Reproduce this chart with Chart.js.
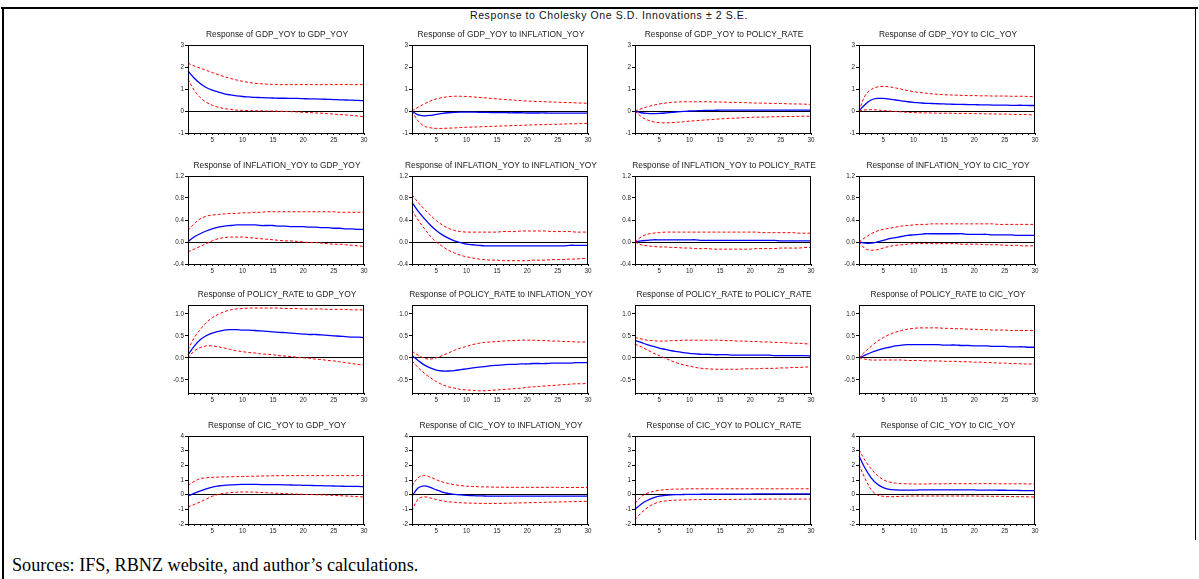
<!DOCTYPE html>
<html>
<head>
<meta charset="utf-8">
<script src="https://cdn.jsdelivr.net/npm/chart.js@4.4.1/dist/chart.umd.min.js"></script>
<style>
  html, body { margin: 0; padding: 0; background: #fff; }
  body { width: 1199px; height: 579px; position: relative; overflow: hidden; }
  canvas { position: absolute; }
  .line { position: absolute; background: #000; }
  #mainTitle { position: absolute; left: 409px; top: 9px; width: 400px; text-align: center;
    font: 10.5px Arial, "Liberation Sans", sans-serif; letter-spacing: 0.6px; color: #111; line-height: 12px; white-space: nowrap; }
  #sources { position: absolute; left: 12px; top: 554px; font: 18.2px "Liberation Serif", "Times New Roman", serif; color: #000; white-space: nowrap; line-height: 22px; }
</style>
</head>
<body>
<div class="line" style="left:1px;top:7px;width:1197px;height:2px;"></div>
<div class="line" style="left:2px;top:7px;width:2px;height:572px;"></div>
<div class="line" style="left:1195px;top:7px;width:1px;height:533px;"></div>
<div id="mainTitle">Response to Cholesky One S.D. Innovations ± 2 S.E.</div>
<div id="sources">Sources: IFS, RBNZ website, and author’s calculations.</div>
<script>
// ---------- data ----------
const periods = [1,2,3,4,5,6,7,8,9,10,11,12,13,14,15,16,17,18,19,20,21,22,23,24,25,26,27,28,29,30];
const variables = ["GDP_YOY", "INFLATION_YOY", "POLICY_RATE", "CIC_YOY"];

const yTicksRow1 = [-1, 0, 1, 2, 3];
const yLabelsRow1 = ["-1", "0", "1", "2", "3"];
const yTicksRow2 = [-0.4, 0, 0.4, 0.8, 1.2];
const yLabelsRow2 = ["-0.4", "0.0", "0.4", "0.8", "1.2"];
const yTicksRow3 = [-0.5, 0, 0.5, 1.0];
const yLabelsRow3 = ["-0.5", "0.0", "0.5", "1.0"];
const yTicksRow4 = [-2, -1, 0, 1, 2, 3, 4];
const yLabelsRow4 = ["-2", "-1", "0", "1", "2", "3", "4"];
const yRangeRow1 = [-1, 3];
const yRangeRow2 = [-0.4, 1.2];
const yRangeRow3 = [-0.8, 1.2];
const yRangeRow4 = [-2, 4];

// Response of GDP_YOY
const gdp_gdp     = [1.82,1.50,1.25,1.07,0.95,0.86,0.78,0.73,0.69,0.66,0.64,0.62,0.61,0.60,0.59,0.58,0.58,0.57,0.57,0.56,0.55,0.55,0.54,0.53,0.52,0.51,0.50,0.49,0.48,0.47];
const gdp_gdp_hi  = [2.17,2.05,1.95,1.85,1.75,1.65,1.56,1.48,1.41,1.35,1.30,1.26,1.24,1.22,1.21,1.20,1.20,1.20,1.20,1.20,1.20,1.20,1.20,1.20,1.20,1.20,1.20,1.20,1.20,1.20];
const gdp_gdp_lo  = [1.45,0.95,0.62,0.40,0.26,0.17,0.11,0.07,0.04,0.03,0.02,0.01,0.01,0.00,0.00,-0.01,-0.02,-0.03,-0.04,-0.06,-0.07,-0.09,-0.10,-0.12,-0.14,-0.16,-0.18,-0.20,-0.23,-0.26];
const gdp_inf     = [0.00,-0.18,-0.22,-0.20,-0.15,-0.11,-0.08,-0.06,-0.05,-0.05,-0.05,-0.06,-0.06,-0.07,-0.07,-0.07,-0.08,-0.08,-0.08,-0.09,-0.09,-0.09,-0.09,-0.10,-0.10,-0.10,-0.10,-0.10,-0.10,-0.10];
const gdp_inf_hi  = [0.00,0.17,0.32,0.45,0.55,0.61,0.65,0.67,0.67,0.66,0.64,0.62,0.60,0.57,0.55,0.53,0.51,0.49,0.47,0.45,0.44,0.43,0.42,0.41,0.40,0.39,0.38,0.37,0.36,0.35];
const gdp_inf_lo  = [0.00,-0.45,-0.68,-0.76,-0.79,-0.79,-0.78,-0.77,-0.75,-0.74,-0.73,-0.72,-0.71,-0.70,-0.69,-0.68,-0.67,-0.66,-0.65,-0.64,-0.63,-0.62,-0.62,-0.61,-0.60,-0.59,-0.58,-0.58,-0.57,-0.56];
const gdp_pol     = [0.00,-0.08,-0.11,-0.12,-0.11,-0.09,-0.06,-0.04,-0.02,0.00,0.01,0.02,0.03,0.03,0.04,0.04,0.04,0.04,0.04,0.04,0.04,0.04,0.04,0.04,0.04,0.04,0.04,0.04,0.04,0.04];
const gdp_pol_hi  = [0.00,0.10,0.19,0.26,0.32,0.36,0.39,0.41,0.42,0.42,0.42,0.42,0.42,0.41,0.41,0.40,0.39,0.39,0.38,0.37,0.36,0.36,0.35,0.34,0.34,0.33,0.32,0.32,0.31,0.30];
const gdp_pol_lo  = [0.00,-0.25,-0.40,-0.49,-0.53,-0.54,-0.53,-0.51,-0.49,-0.46,-0.44,-0.42,-0.40,-0.38,-0.36,-0.34,-0.33,-0.32,-0.30,-0.29,-0.28,-0.28,-0.27,-0.26,-0.26,-0.25,-0.25,-0.24,-0.24,-0.24];
const gdp_cic     = [0.00,0.30,0.50,0.57,0.57,0.54,0.50,0.46,0.42,0.39,0.37,0.35,0.34,0.33,0.32,0.31,0.30,0.30,0.29,0.29,0.28,0.28,0.27,0.27,0.27,0.26,0.26,0.26,0.25,0.25];
const gdp_cic_hi  = [0.00,0.70,0.98,1.09,1.12,1.10,1.05,0.99,0.93,0.88,0.84,0.81,0.78,0.76,0.74,0.73,0.72,0.71,0.70,0.70,0.69,0.69,0.68,0.68,0.68,0.67,0.67,0.67,0.66,0.66];
const gdp_cic_lo  = [0.00,0.05,0.06,0.05,0.02,0.00,-0.02,-0.04,-0.06,-0.07,-0.08,-0.09,-0.09,-0.10,-0.10,-0.10,-0.11,-0.11,-0.11,-0.12,-0.12,-0.13,-0.13,-0.14,-0.14,-0.15,-0.16,-0.16,-0.17,-0.18];

// Response of INFLATION_YOY
const inf_gdp     = [0.01,0.09,0.15,0.20,0.24,0.27,0.29,0.30,0.31,0.31,0.31,0.31,0.30,0.30,0.30,0.29,0.29,0.28,0.28,0.28,0.27,0.27,0.26,0.26,0.25,0.25,0.24,0.24,0.23,0.23];
const inf_gdp_hi  = [0.21,0.33,0.42,0.47,0.49,0.50,0.51,0.52,0.52,0.53,0.53,0.54,0.54,0.55,0.55,0.55,0.55,0.55,0.55,0.55,0.55,0.55,0.55,0.55,0.55,0.54,0.54,0.54,0.54,0.54];
const inf_gdp_lo  = [-0.18,-0.13,-0.08,-0.03,0.02,0.06,0.08,0.09,0.09,0.09,0.08,0.07,0.06,0.05,0.04,0.03,0.02,0.02,0.01,0.00,-0.01,-0.01,-0.02,-0.03,-0.04,-0.04,-0.05,-0.06,-0.07,-0.08];
const inf_inf     = [0.72,0.56,0.43,0.31,0.21,0.13,0.07,0.02,-0.01,-0.04,-0.05,-0.06,-0.07,-0.07,-0.07,-0.07,-0.07,-0.07,-0.07,-0.07,-0.07,-0.07,-0.07,-0.07,-0.07,-0.07,-0.06,-0.06,-0.06,-0.06];
const inf_inf_hi  = [0.86,0.72,0.60,0.49,0.39,0.31,0.25,0.21,0.19,0.18,0.18,0.18,0.18,0.18,0.18,0.19,0.19,0.19,0.20,0.20,0.20,0.20,0.20,0.19,0.19,0.19,0.19,0.18,0.18,0.18];
const inf_inf_lo  = [0.58,0.40,0.25,0.11,0.00,-0.08,-0.15,-0.20,-0.24,-0.27,-0.29,-0.31,-0.32,-0.33,-0.33,-0.34,-0.34,-0.34,-0.34,-0.34,-0.33,-0.33,-0.33,-0.32,-0.32,-0.32,-0.31,-0.31,-0.30,-0.30];
const inf_pol     = [0.00,0.02,0.03,0.04,0.04,0.04,0.04,0.04,0.04,0.04,0.04,0.03,0.03,0.03,0.03,0.03,0.03,0.03,0.03,0.03,0.03,0.03,0.03,0.03,0.02,0.02,0.02,0.02,0.02,0.02];
const inf_pol_hi  = [0.00,0.09,0.14,0.16,0.17,0.18,0.18,0.18,0.18,0.18,0.18,0.18,0.18,0.18,0.18,0.18,0.18,0.18,0.18,0.18,0.18,0.17,0.17,0.17,0.17,0.17,0.17,0.16,0.16,0.16];
const inf_pol_lo  = [0.00,-0.05,-0.07,-0.08,-0.09,-0.09,-0.10,-0.10,-0.11,-0.11,-0.12,-0.12,-0.12,-0.13,-0.13,-0.13,-0.13,-0.13,-0.13,-0.13,-0.12,-0.12,-0.12,-0.12,-0.11,-0.11,-0.11,-0.11,-0.10,-0.10];
const inf_cic     = [0.00,-0.02,-0.02,0.00,0.03,0.06,0.08,0.10,0.12,0.13,0.14,0.15,0.15,0.15,0.15,0.15,0.15,0.15,0.14,0.14,0.14,0.14,0.13,0.13,0.13,0.13,0.12,0.12,0.12,0.12];
const inf_cic_hi  = [0.00,0.08,0.15,0.20,0.23,0.25,0.27,0.29,0.30,0.31,0.32,0.32,0.33,0.33,0.33,0.33,0.33,0.33,0.33,0.33,0.33,0.33,0.33,0.32,0.32,0.32,0.32,0.32,0.32,0.32];
const inf_cic_lo  = [0.00,-0.12,-0.15,-0.14,-0.11,-0.08,-0.06,-0.05,-0.04,-0.03,-0.03,-0.03,-0.03,-0.03,-0.03,-0.03,-0.03,-0.04,-0.04,-0.04,-0.04,-0.05,-0.05,-0.05,-0.06,-0.06,-0.06,-0.07,-0.07,-0.07];

// Response of POLICY_RATE
const pol_gdp     = [0.07,0.26,0.41,0.50,0.56,0.60,0.63,0.64,0.64,0.63,0.63,0.62,0.61,0.60,0.59,0.58,0.57,0.56,0.55,0.54,0.53,0.53,0.52,0.51,0.50,0.49,0.48,0.47,0.47,0.46];
const pol_gdp_hi  = [0.18,0.45,0.64,0.80,0.91,0.99,1.05,1.09,1.11,1.12,1.13,1.13,1.13,1.13,1.13,1.13,1.12,1.12,1.12,1.11,1.11,1.11,1.11,1.10,1.10,1.10,1.10,1.09,1.09,1.09];
const pol_gdp_lo  = [0.00,0.15,0.23,0.27,0.27,0.25,0.22,0.19,0.16,0.14,0.12,0.11,0.09,0.08,0.07,0.05,0.04,0.03,0.01,0.00,-0.01,-0.03,-0.04,-0.06,-0.07,-0.09,-0.11,-0.13,-0.15,-0.17];
const pol_inf     = [0.05,-0.06,-0.16,-0.23,-0.28,-0.30,-0.30,-0.29,-0.27,-0.25,-0.23,-0.21,-0.20,-0.18,-0.17,-0.16,-0.15,-0.15,-0.14,-0.14,-0.13,-0.13,-0.13,-0.12,-0.12,-0.12,-0.12,-0.11,-0.11,-0.11];
const pol_inf_hi  = [0.15,0.06,-0.01,-0.03,0.00,0.05,0.11,0.17,0.22,0.26,0.30,0.33,0.35,0.36,0.37,0.38,0.39,0.39,0.40,0.40,0.40,0.39,0.39,0.38,0.38,0.37,0.37,0.36,0.36,0.36];
const pol_inf_lo  = [-0.07,-0.22,-0.35,-0.45,-0.54,-0.61,-0.66,-0.69,-0.72,-0.73,-0.74,-0.75,-0.75,-0.74,-0.73,-0.72,-0.71,-0.70,-0.69,-0.67,-0.66,-0.65,-0.64,-0.63,-0.62,-0.61,-0.60,-0.59,-0.59,-0.58];
const pol_pol     = [0.39,0.35,0.30,0.26,0.22,0.19,0.16,0.14,0.12,0.10,0.09,0.08,0.08,0.07,0.07,0.07,0.06,0.06,0.06,0.06,0.06,0.06,0.06,0.05,0.05,0.05,0.05,0.05,0.05,0.04];
const pol_pol_hi  = [0.46,0.43,0.40,0.39,0.38,0.38,0.39,0.39,0.40,0.40,0.40,0.40,0.40,0.40,0.40,0.39,0.39,0.38,0.38,0.37,0.37,0.36,0.36,0.35,0.35,0.34,0.33,0.33,0.32,0.31];
const pol_pol_lo  = [0.31,0.25,0.18,0.11,0.05,-0.01,-0.07,-0.12,-0.16,-0.19,-0.22,-0.24,-0.25,-0.26,-0.26,-0.26,-0.26,-0.26,-0.25,-0.25,-0.25,-0.24,-0.24,-0.24,-0.23,-0.23,-0.22,-0.22,-0.21,-0.21];
const pol_cic     = [0.00,0.06,0.12,0.17,0.21,0.24,0.27,0.29,0.30,0.30,0.30,0.30,0.30,0.30,0.29,0.29,0.29,0.28,0.28,0.27,0.27,0.27,0.26,0.26,0.26,0.25,0.25,0.25,0.24,0.24];
const pol_cic_hi  = [0.00,0.14,0.26,0.37,0.46,0.53,0.58,0.62,0.65,0.67,0.68,0.68,0.68,0.68,0.67,0.67,0.66,0.66,0.65,0.65,0.64,0.64,0.63,0.63,0.63,0.62,0.62,0.62,0.62,0.62];
const pol_cic_lo  = [0.00,-0.03,-0.05,-0.05,-0.05,-0.05,-0.05,-0.05,-0.06,-0.06,-0.06,-0.07,-0.07,-0.07,-0.08,-0.08,-0.08,-0.09,-0.09,-0.10,-0.10,-0.11,-0.11,-0.12,-0.12,-0.13,-0.13,-0.14,-0.14,-0.15];

// Response of CIC_YOY
const cic_gdp     = [-0.09,0.09,0.25,0.40,0.52,0.59,0.64,0.67,0.69,0.70,0.70,0.70,0.69,0.69,0.68,0.68,0.67,0.66,0.65,0.64,0.63,0.62,0.61,0.60,0.59,0.58,0.57,0.56,0.56,0.55];
const cic_gdp_hi  = [0.64,0.90,1.09,1.15,1.18,1.20,1.21,1.22,1.23,1.24,1.25,1.26,1.27,1.28,1.29,1.29,1.30,1.30,1.30,1.30,1.30,1.30,1.30,1.30,1.30,1.30,1.30,1.30,1.30,1.30];
const cic_gdp_lo  = [-0.84,-0.67,-0.50,-0.30,-0.11,0.02,0.09,0.14,0.17,0.18,0.18,0.17,0.15,0.13,0.11,0.09,0.07,0.05,0.04,0.02,0.01,0.00,-0.01,-0.03,-0.05,-0.07,-0.09,-0.11,-0.13,-0.16];
const cic_inf     = [-0.10,0.45,0.60,0.50,0.32,0.18,0.08,0.02,-0.02,-0.05,-0.07,-0.08,-0.09,-0.10,-0.10,-0.10,-0.10,-0.10,-0.10,-0.10,-0.10,-0.10,-0.10,-0.10,-0.10,-0.10,-0.10,-0.10,-0.10,-0.10];
const cic_inf_hi  = [0.60,1.15,1.30,1.20,1.02,0.87,0.76,0.68,0.62,0.58,0.56,0.54,0.53,0.52,0.51,0.51,0.50,0.50,0.50,0.50,0.50,0.50,0.50,0.50,0.50,0.49,0.49,0.49,0.49,0.49];
const cic_inf_lo  = [-1.10,-0.30,-0.15,-0.22,-0.33,-0.42,-0.48,-0.52,-0.55,-0.57,-0.58,-0.59,-0.60,-0.60,-0.60,-0.59,-0.58,-0.57,-0.56,-0.55,-0.54,-0.53,-0.52,-0.51,-0.50,-0.49,-0.48,-0.47,-0.46,-0.45];
const cic_pol     = [-1.00,-0.65,-0.40,-0.22,-0.10,-0.04,-0.01,0.00,0.01,0.02,0.02,0.03,0.03,0.03,0.04,0.04,0.04,0.04,0.04,0.04,0.05,0.05,0.05,0.05,0.05,0.05,0.05,0.05,0.05,0.05];
const cic_pol_hi  = [-0.60,-0.15,0.10,0.22,0.30,0.34,0.37,0.38,0.39,0.40,0.40,0.40,0.40,0.40,0.40,0.40,0.40,0.40,0.40,0.40,0.40,0.40,0.40,0.40,0.40,0.40,0.40,0.40,0.40,0.40];
const cic_pol_lo  = [-1.70,-1.25,-0.90,-0.65,-0.50,-0.43,-0.39,-0.37,-0.36,-0.35,-0.34,-0.34,-0.33,-0.33,-0.33,-0.32,-0.32,-0.32,-0.31,-0.31,-0.31,-0.31,-0.30,-0.30,-0.30,-0.30,-0.30,-0.30,-0.30,-0.30];
const cic_cic     = [2.64,1.80,1.15,0.72,0.48,0.36,0.32,0.31,0.31,0.31,0.32,0.32,0.32,0.32,0.32,0.32,0.32,0.32,0.32,0.32,0.31,0.31,0.31,0.30,0.30,0.29,0.29,0.28,0.28,0.27];
const cic_cic_hi  = [3.07,2.34,1.77,1.32,1.02,0.86,0.79,0.75,0.74,0.73,0.73,0.73,0.74,0.74,0.74,0.75,0.75,0.75,0.75,0.75,0.75,0.75,0.75,0.74,0.74,0.74,0.74,0.74,0.73,0.73];
const cic_cic_lo  = [2.05,1.10,0.35,-0.02,-0.11,-0.14,-0.13,-0.11,-0.10,-0.09,-0.09,-0.09,-0.09,-0.09,-0.09,-0.09,-0.09,-0.09,-0.09,-0.09,-0.10,-0.10,-0.11,-0.11,-0.12,-0.13,-0.14,-0.14,-0.15,-0.16];

// ---------- layout ----------
const colLeft = [188, 412, 635, 859];
const rowTop = [45, 176, 305, 436];
const plotW = 176, plotH = 88;
const padL = 26, padR = 26, padT = 18, padB = 14;

const rowsY = [
  { range: yRangeRow1, ticks: yTicksRow1, labels: yLabelsRow1 },
  { range: yRangeRow2, ticks: yTicksRow2, labels: yLabelsRow2 },
  { range: yRangeRow3, ticks: yTicksRow3, labels: yLabelsRow3 },
  { range: yRangeRow4, ticks: yTicksRow4, labels: yLabelsRow4 }
];
const panelData = [
  [[gdp_gdp, gdp_gdp_hi, gdp_gdp_lo], [gdp_inf, gdp_inf_hi, gdp_inf_lo], [gdp_pol, gdp_pol_hi, gdp_pol_lo], [gdp_cic, gdp_cic_hi, gdp_cic_lo]],
  [[inf_gdp, inf_gdp_hi, inf_gdp_lo], [inf_inf, inf_inf_hi, inf_inf_lo], [inf_pol, inf_pol_hi, inf_pol_lo], [inf_cic, inf_cic_hi, inf_cic_lo]],
  [[pol_gdp, pol_gdp_hi, pol_gdp_lo], [pol_inf, pol_inf_hi, pol_inf_lo], [pol_pol, pol_pol_hi, pol_pol_lo], [pol_cic, pol_cic_hi, pol_cic_lo]],
  [[cic_gdp, cic_gdp_hi, cic_gdp_lo], [cic_inf, cic_inf_hi, cic_inf_lo], [cic_pol, cic_pol_hi, cic_pol_lo], [cic_cic, cic_cic_hi, cic_cic_lo]]
];

const FONT = 'Arial, "Liberation Sans", sans-serif';

const panelDecor = {
  id: 'panelDecor',
  afterDatasetsDraw(chart, args, opts) {
    const { ctx, chartArea: a } = chart;
    ctx.save();
    ctx.strokeStyle = '#000';
    ctx.lineWidth = 1;
    ctx.strokeRect(Math.round(a.left) + 0.5, Math.round(a.top) + 0.5, Math.round(a.right - a.left) - 1, Math.round(a.bottom - a.top));
    ctx.restore();
  },
  afterDraw(chart, args, opts) {
    const { ctx, chartArea: a } = chart;
    ctx.save();
    ctx.font = '8.4px ' + FONT;
    ctx.fillStyle = '#222';
    ctx.textAlign = 'center';
    ctx.textBaseline = 'middle';
    ctx.fillText(opts.text, (a.left + a.right) / 2 + 1, a.top - 10);
    ctx.restore();
  }
};

for (let r = 0; r < 4; r++) {
  for (let c = 0; c < 4; c++) {
    const cv = document.createElement('canvas');
    const w = plotW + padL + padR, h = plotH + padT + padB;
    cv.width = w; cv.height = h;
    cv.style.width = w + 'px'; cv.style.height = h + 'px';
    cv.style.left = (colLeft[c] - padL) + 'px';
    cv.style.top = (rowTop[r] - padT) + 'px';
    document.body.appendChild(cv);
    const ry = rowsY[r];
    const [resp, hi, lo] = panelData[r][c];
    new Chart(cv, {
      type: 'line',
      data: {
        labels: periods,
        datasets: [
          { data: hi, borderColor: '#ff0000', borderWidth: 1, borderDash: [3, 2], pointRadius: 0, tension: 0.35 },
          { data: lo, borderColor: '#ff0000', borderWidth: 1, borderDash: [3, 2], pointRadius: 0, tension: 0.35 },
          { data: resp, borderColor: '#0000ff', borderWidth: 1.3, pointRadius: 0, tension: 0.35 }
        ]
      },
      plugins: [panelDecor],
      options: {
        responsive: false,
        animation: false,
        devicePixelRatio: 1,
        layout: { padding: { top: padT, right: padR, left: 0, bottom: 0 } },
        plugins: { legend: { display: false }, tooltip: { enabled: false }, title: { display: false },
          panelDecor: { text: 'Response of ' + variables[r] + ' to ' + variables[c] } },
        scales: {
          x: {
            type: 'category',
            offset: false,
            afterFit: s => { s.height = padB; },
            grid: { drawOnChartArea: false, drawTicks: true, tickLength: 2, tickColor: '#000', color: '#000' },
            border: { display: true, color: '#000', width: 1 },
            ticks: { autoSkip: false, maxRotation: 0, padding: 1, color: '#222', font: { size: 6.3, family: FONT },
              callback: (v, i) => (periods[i] % 5 === 0 ? String(periods[i]) : '') }
          },
          y: {
            min: ry.range[0], max: ry.range[1],
            afterFit: s => { s.width = padL; },
            afterBuildTicks: s => { s.ticks = ry.ticks.map(v => ({ value: v })); },
            grid: { drawOnChartArea: true, drawTicks: true, tickLength: 3, tickColor: '#000',
              color: ctx => (ctx.tick && Math.abs(ctx.tick.value) < 1e-9 ? '#000' : 'rgba(0,0,0,0)') },
            border: { display: true, color: '#000', width: 1 },
            ticks: { padding: 1, color: '#222', font: { size: 6.3, family: FONT },
              callback: (v) => { const i = ry.ticks.findIndex(t => Math.abs(t - v) < 1e-9); return i >= 0 ? ry.labels[i] : ''; } }
          }
        }
      }
    });
  }
}
</script>
</body>
</html>
